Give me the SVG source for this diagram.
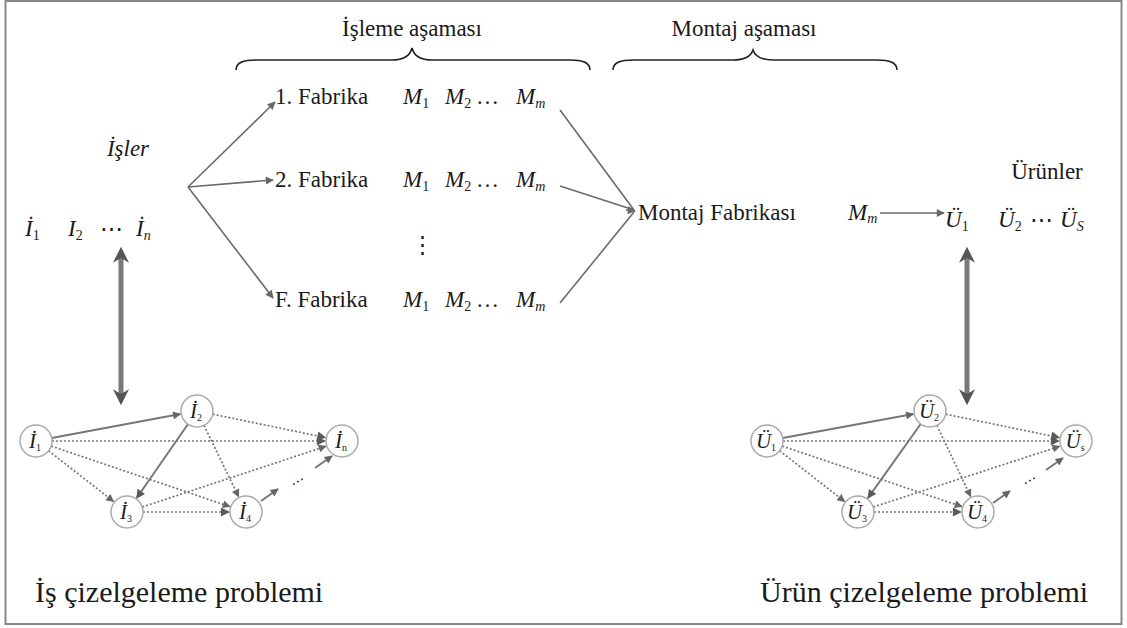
<svg xmlns="http://www.w3.org/2000/svg" width="1127" height="628" viewBox="0 0 1127 628" font-family="'Liberation Serif', 'Times New Roman', serif">
<defs>
<style>
text{font-family:"Liberation Serif","Times New Roman",Times,serif;fill:#1a1a1a}
.t{font-size:23px}
.it{font-style:italic}
.sub{font-size:14px;font-style:normal}
.sit{font-size:14px;font-style:italic}
.big{font-size:30px}
.ln{stroke:#6a6a6a;stroke-width:1.6;fill:none}
.dl{stroke:#777;stroke-width:1.7;fill:none;stroke-dasharray:2 2}
.sl{stroke:#777;stroke-width:2;fill:none}
.br{stroke:#222;stroke-width:1.6;fill:none}
.nd{fill:#fff;stroke:#aaa;stroke-width:1.5}
.nl{font-size:21px;font-style:italic;text-anchor:middle}
.ns{font-size:10px;font-style:normal}
.dbl{stroke:#7a7a7a;stroke-width:5;fill:none}
</style>
<marker id="ah" viewBox="0 0 10 10" refX="9" refY="5" markerWidth="10" markerHeight="8" markerUnits="userSpaceOnUse" orient="auto">
<path d="M0,0 L10,5 L0,10 Z" fill="#666"/>
</marker>
<marker id="ahd" viewBox="0 0 10 10" refX="9" refY="5" markerWidth="11" markerHeight="9" markerUnits="userSpaceOnUse" orient="auto">
<path d="M0,0 L10,5 L0,10 Z" fill="#5a5a5a"/>
</marker>
<marker id="big" viewBox="0 0 10 10" refX="3" refY="5" markerWidth="18" markerHeight="16" markerUnits="userSpaceOnUse" orient="auto-start-reverse">
<path d="M0,0 L10,5 L0,10 L3,5 Z" fill="#555"/>
</marker>
</defs>
<rect x="5.5" y="1" width="1116" height="623" fill="#fff" stroke="#888" stroke-width="2"/>

<g id="braces">
<path class="br" d="M236,70 C236,62 244,60 256,60 L392,60 C404,60 410,56 412,48 C414,56 420,60 432,60 L570,60 C582,60 590,62 590,70"/>
<path class="br" d="M613,70 C613,62 621,60 633,60 L733,60 C745,60 751,56 753,50 C755,56 761,60 773,60 L877,60 C889,60 897,62 897,70"/>
</g>
<g id="stage-labels">
<text class="t" x="412" y="36" text-anchor="middle">İşleme aşaması</text>
<text class="t" x="744" y="36" text-anchor="middle">Montaj aşaması</text>
</g>

<g id="connectors">
<line class="ln" x1="188" y1="187" x2="275" y2="102" marker-end="url(#ah)"/>
<line class="ln" x1="188" y1="187" x2="273" y2="180" marker-end="url(#ah)"/>
<line class="ln" x1="188" y1="187" x2="273" y2="298" marker-end="url(#ah)"/>
<line class="ln" x1="560" y1="110" x2="634" y2="210"/>
<line class="ln" x1="560" y1="186" x2="634" y2="210"/>
<line class="ln" x1="560" y1="303" x2="634" y2="212"/>
<line class="ln" x1="626" y1="210" x2="635" y2="211" marker-end="url(#ah)"/>
<line class="ln" x1="880" y1="213" x2="944" y2="213" marker-end="url(#ah)"/>
<line class="dbl" x1="121" y1="258" x2="121" y2="394" marker-start="url(#big)" marker-end="url(#big)"/>
<line class="dbl" x1="967" y1="258" x2="967" y2="394" marker-start="url(#big)" marker-end="url(#big)"/>

<line class="sl" x1="51.7" y1="438.1" x2="180.3" y2="414.1" marker-end="url(#ah)"/>
<line class="sl" x1="187.9" y1="424.2" x2="136.7" y2="498" stroke="#555" marker-end="url(#ahd)"/>
<line class="dl" x1="52" y1="441" x2="325" y2="441" marker-end="url(#ahd)"/>
<line class="dl" x1="48.6" y1="450.8" x2="113.6" y2="501.5" marker-end="url(#ah)"/>
<line class="dl" x1="51.2" y1="446.1" x2="229.9" y2="506.6" marker-end="url(#ah)"/>
<line class="dl" x1="212.7" y1="414.2" x2="325.4" y2="437.5" marker-end="url(#ahd)"/>
<line class="dl" x1="204" y1="425.4" x2="238.6" y2="496.7" marker-end="url(#ah)"/>
<line class="dl" x1="142.2" y1="507" x2="325.9" y2="446.3" marker-end="url(#ah)"/>
<line class="dl" x1="143" y1="512" x2="229" y2="512" marker-end="url(#ahd)"/>
<line class="sl" x1="261" y1="501" x2="278" y2="489" marker-end="url(#ah)"/>
<line class="sl" x1="315" y1="468" x2="332" y2="456" marker-end="url(#ah)"/>

<line class="sl" x1="782.7" y1="438.1" x2="913.3" y2="414.1" marker-end="url(#ah)"/>
<line class="sl" x1="920.7" y1="424" x2="867.9" y2="498.1" stroke="#555" marker-end="url(#ahd)"/>
<line class="dl" x1="783" y1="441" x2="1059" y2="441" marker-end="url(#ahd)"/>
<line class="dl" x1="779.6" y1="450.8" x2="844.6" y2="501.5" marker-end="url(#ah)"/>
<line class="dl" x1="782.2" y1="446.1" x2="961.9" y2="506.6" marker-end="url(#ah)"/>
<line class="dl" x1="945.7" y1="414.2" x2="1059.3" y2="437.6" marker-end="url(#ahd)"/>
<line class="dl" x1="936.9" y1="425.4" x2="970.7" y2="496.6" marker-end="url(#ah)"/>
<line class="dl" x1="873.2" y1="507" x2="1059.8" y2="446.3" marker-end="url(#ah)"/>
<line class="dl" x1="874" y1="512" x2="961" y2="512" marker-end="url(#ahd)"/>
<line class="sl" x1="993" y1="503" x2="1010" y2="491" marker-end="url(#ah)"/>
<line class="sl" x1="1046" y1="470" x2="1063" y2="458" marker-end="url(#ah)"/>
</g>

<g id="factory1">
<text class="t" x="275" y="104">1. Fabrika</text>
<text class="t it" x="403" y="104">M<tspan class="sub" dy="4">1</tspan></text>
<text class="t it" x="445" y="104">M<tspan class="sub" dy="4">2</tspan></text>
<text class="t" x="476" y="104">…</text>
<text class="t it" x="516" y="104">M<tspan class="sit" dy="4">m</tspan></text>
</g>
<g id="factory2">
<text class="t" x="275" y="187">2. Fabrika</text>
<text class="t it" x="403" y="187">M<tspan class="sub" dy="4">1</tspan></text>
<text class="t it" x="445" y="187">M<tspan class="sub" dy="4">2</tspan></text>
<text class="t" x="476" y="187">…</text>
<text class="t it" x="516" y="187">M<tspan class="sit" dy="4">m</tspan></text>
</g>
<g id="vdots">
<text class="t" x="422" y="252" text-anchor="middle">⋮</text>
</g>
<g id="factoryF">
<text class="t" x="275" y="307">F. Fabrika</text>
<text class="t it" x="403" y="307">M<tspan class="sub" dy="4">1</tspan></text>
<text class="t it" x="445" y="307">M<tspan class="sub" dy="4">2</tspan></text>
<text class="t" x="476" y="307">…</text>
<text class="t it" x="516" y="307">M<tspan class="sit" dy="4">m</tspan></text>
</g>
<g id="assembly">
<text class="t" x="638" y="220">Montaj Fabrikası</text>
<text class="t it" x="848" y="220">M<tspan class="sit" dy="3">m</tspan></text>
</g>
<g id="jobs">
<text class="t it" x="128" y="156" text-anchor="middle">İşler</text>
<text class="t it" x="25" y="236">İ<tspan class="sub" dy="4">1</tspan></text>
<text class="t it" x="68" y="236">I<tspan class="sub" dy="4">2</tspan></text>
<text class="t" x="100" y="236">⋯</text>
<text class="t it" x="136" y="236">İ<tspan class="sit" dy="4">n</tspan></text>
</g>
<g id="products">
<text class="t" x="1047" y="179" text-anchor="middle">Ürünler</text>
<text class="t it" x="945" y="227">Ü<tspan class="sub" dy="4">1</tspan></text>
<text class="t it" x="998" y="227">Ü<tspan class="sub" dy="4">2</tspan></text>
<text class="t" x="1030" y="227">⋯</text>
<text class="t it" x="1060" y="227">Ü<tspan class="sit" dy="4">S</tspan></text>
</g>

<g id="job-node-1"><circle class="nd" cx="36" cy="441" r="16"/><text class="nl" x="35" y="448">İ<tspan class="ns" dy="3">1</tspan></text></g>
<g id="job-node-2"><circle class="nd" cx="197" cy="411" r="16"/><text class="nl" x="196" y="418">İ<tspan class="ns" dy="3">2</tspan></text></g>
<g id="job-node-n"><circle class="nd" cx="342" cy="441" r="16"/><text class="nl" x="341" y="448">İ<tspan class="ns" dy="3">n</tspan></text></g>
<g id="job-node-3"><circle class="nd" cx="127" cy="512" r="16"/><text class="nl" x="126" y="519">İ<tspan class="ns" dy="3">3</tspan></text></g>
<g id="job-node-4"><circle class="nd" cx="246" cy="512" r="16"/><text class="nl" x="245" y="519">İ<tspan class="ns" dy="3">4</tspan></text></g>
<g id="job-dots"><text x="298" y="486" font-size="14" transform="rotate(-30 298 482)" text-anchor="middle">⋯</text></g>

<g id="prod-node-1"><circle class="nd" cx="767" cy="441" r="16"/><text class="nl" x="766" y="448">Ü<tspan class="ns" dy="3">1</tspan></text></g>
<g id="prod-node-2"><circle class="nd" cx="930" cy="411" r="16"/><text class="nl" x="929" y="418">Ü<tspan class="ns" dy="3">2</tspan></text></g>
<g id="prod-node-s"><circle class="nd" cx="1076" cy="441" r="16"/><text class="nl" x="1075" y="448">Ü<tspan class="ns" dy="3">s</tspan></text></g>
<g id="prod-node-3"><circle class="nd" cx="858" cy="512" r="16"/><text class="nl" x="857" y="519">Ü<tspan class="ns" dy="3">3</tspan></text></g>
<g id="prod-node-4"><circle class="nd" cx="978" cy="512" r="16"/><text class="nl" x="977" y="519">Ü<tspan class="ns" dy="3">4</tspan></text></g>
<g id="prod-dots"><text x="1030" y="485" font-size="14" transform="rotate(-30 1030 481)" text-anchor="middle">⋯</text></g>

<g id="titles">
<text class="big" x="35" y="602">İş çizelgeleme problemi</text>
<text class="big" x="760" y="602">Ürün çizelgeleme problemi</text>
</g>
</svg>
